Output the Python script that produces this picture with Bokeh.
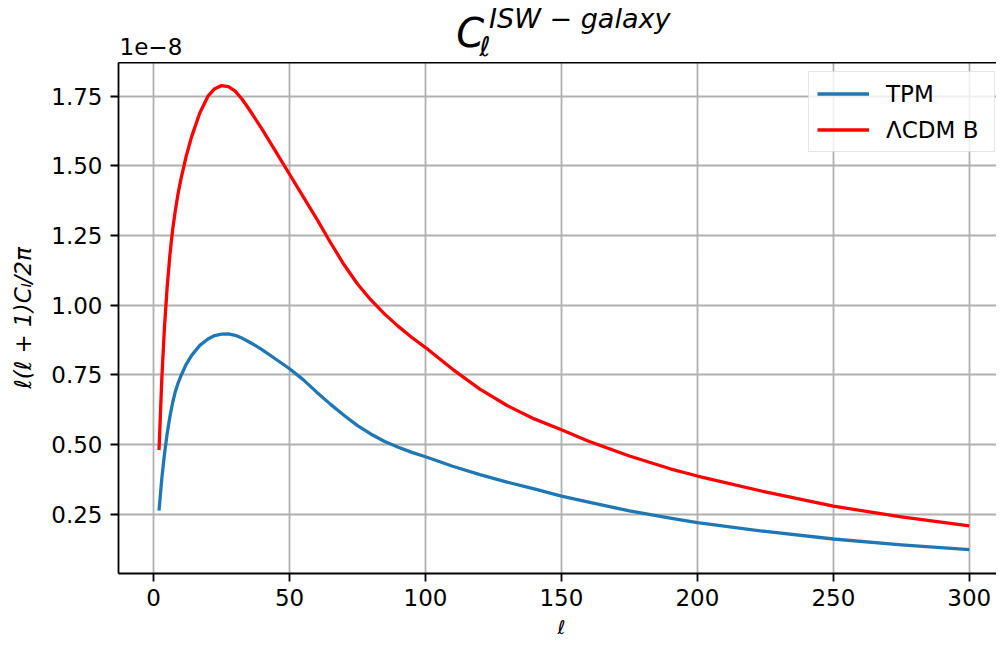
from bokeh.plotting import figure
from bokeh.models import (Range1d, FixedTicker, PrintfTickFormatter, LinearAxis, Label)
from bokeh.layouts import column
from bokeh.embed import file_html
from bokeh.resources import INLINE

# ---- data (values in units of 1e-8) ----
ell = [2, 3, 4, 5, 6, 7, 8, 9, 10, 12, 14, 17, 20, 22.5, 25, 27.5, 30, 32.5, 35,
       37.5, 40, 45, 50, 55, 60, 65, 70, 75, 80, 85, 90, 95, 100, 110, 120, 130,
       140, 150, 160, 175, 190, 200, 225, 250, 275, 300]
tpm = [0.263, 0.375, 0.465, 0.54, 0.60, 0.65, 0.69, 0.72, 0.745, 0.788, 0.82, 0.856,
       0.879, 0.891, 0.896, 0.897, 0.892, 0.882, 0.869, 0.855, 0.84, 0.806, 0.772,
       0.733, 0.688, 0.645, 0.605, 0.568, 0.537, 0.511, 0.490, 0.472, 0.456, 0.422,
       0.392, 0.365, 0.341, 0.315, 0.293, 0.262, 0.236, 0.220, 0.188, 0.161, 0.140,
       0.123]
lcdm_b = [0.48, 0.73, 0.92, 1.065, 1.18, 1.27, 1.34, 1.40, 1.45, 1.535, 1.605, 1.69,
          1.75, 1.777, 1.788, 1.784, 1.768, 1.74, 1.705, 1.668, 1.63, 1.55, 1.47, 1.39,
          1.31, 1.226, 1.146, 1.076, 1.018, 0.968, 0.924, 0.884, 0.848, 0.77, 0.699,
          0.64, 0.592, 0.553, 0.512, 0.459, 0.413, 0.387, 0.33, 0.279, 0.24, 0.208]
series_names = ["TPM", "\u039bCDM B"]
x_ticks = [0, 50, 100, 150, 200, 250, 300]
y_ticks = [0.25, 0.50, 0.75, 1.00, 1.25, 1.50, 1.75]
scale_text = "1e\u22128"
title_main = "C"
title_sub = "\u2113"
title_sup = "ISW \u2212 galaxy"
x_label = "\u2113"
y_label = "\u2113(\u2113 + 1)C\u2097/2\u03c0"

FONT = "DejaVu Sans"
W = 996
TITLE_H = 62
MAIN_H = 553
BOTTOM_H = 22


def strip(height, x_range):
    s = figure(width=W, height=height, output_backend="svg", toolbar_location=None,
               title=None, x_range=x_range, y_range=Range1d(0, height),
               x_axis_type=None, y_axis_type=None,
               min_border_left=118, min_border_right=0, min_border_top=0,
               min_border_bottom=0)
    s.outline_line_color = None
    s.xgrid.visible = False
    s.ygrid.visible = False
    return s


# ---------- main plot ----------
p = figure(width=W, height=MAIN_H, output_backend="svg", toolbar_location=None,
           x_range=Range1d(-12.9, 310.0), y_range=Range1d(0.0372, 1.871),
           min_border_left=118, min_border_top=0, min_border_bottom=42,
           min_border_right=0)
p.outline_line_color = None

p.line(ell, tpm, line_color="#1f77b4", line_width=3.3, line_join="round",
       legend_label=series_names[0])
p.line(ell, lcdm_b, line_color="#ff0000", line_width=3.3, line_join="round",
       legend_label=series_names[1])

for ax in (p.xaxis[0], p.yaxis[0]):
    ax.axis_line_width = 1.8
    ax.axis_line_color = "black"
    ax.major_tick_line_width = 1.8
    ax.major_tick_line_color = "black"
    ax.major_tick_out = 8
    ax.major_tick_in = 0
    ax.minor_tick_line_color = None
    ax.major_label_text_font = FONT
    ax.major_label_text_font_size = "23px"
    ax.major_label_text_color = "black"
    ax.axis_label_text_font = FONT
    ax.axis_label_text_font_size = "23px"
    ax.axis_label_text_font_style = "italic"
    ax.axis_label_text_color = "black"

p.xaxis.ticker = FixedTicker(ticks=x_ticks)
p.yaxis.ticker = FixedTicker(ticks=y_ticks)
p.yaxis.formatter = PrintfTickFormatter(format="%.2f")
p.xaxis.major_label_standoff = 7
p.yaxis.major_label_standoff = 8
p.yaxis.axis_label = y_label
p.yaxis.axis_label_standoff = 12

# top spine
top = LinearAxis(ticker=FixedTicker(ticks=[]), axis_line_width=1.8,
                 axis_line_color="black", major_tick_line_color=None,
                 minor_tick_line_color=None, major_tick_out=0, major_tick_in=0,
                 minor_tick_out=0, minor_tick_in=0,
                 major_label_standoff=0, major_label_text_font_size="0px")
p.add_layout(top, "above")

for g in (p.xgrid[0], p.ygrid[0]):
    g.grid_line_color = "#b0b0b0"
    g.grid_line_width = 1.8

lg = p.legend[0]
lg.location = (690, 421)
lg.label_text_font = FONT
lg.label_text_font_size = "23px"
lg.label_text_color = "black"
lg.glyph_width = 52
lg.glyph_height = 27
lg.label_height = 27
lg.label_width = 100
lg.label_standoff = 17
lg.spacing = 9
lg.padding = 8
lg.margin = 0
lg.border_line_color = "#cccccc"
lg.border_line_width = 1.8
lg.background_fill_alpha = 0.8

# ---------- title strip: x shares the plot's data range, y in pixels ----------
t = strip(TITLE_H, p.x_range)
t.add_layout(Label(x=-12.5, y=16, text=scale_text, text_font=FONT,
                   text_font_size="23px", text_baseline="alphabetic",
                   text_color="black"))
t.add_layout(Label(x=111.3, y=30, text=title_main, text_font=FONT,
                   text_font_style="italic", text_font_size="40px",
                   text_baseline="alphabetic", text_color="black"))
t.add_layout(Label(x=119.8, y=16.5, text=title_sub, text_font=FONT,
                   text_font_style="italic", text_font_size="27px",
                   text_baseline="alphabetic", text_color="black"))
t.add_layout(Label(x=123.4, y=44.5, text=title_sup, text_font=FONT,
                   text_font_style="italic", text_font_size="27px",
                   text_baseline="alphabetic", text_color="black"))

# ---------- bottom strip: x-axis label ----------
b = strip(BOTTOM_H, p.x_range)
b.add_layout(Label(x=150, y=11, text=x_label, text_font=FONT,
                   text_font_style="italic", text_font_size="19px",
                   text_align="center", text_baseline="middle",
                   text_color="black"))

layout = column(t, p, b, spacing=0)
open("out.html", "w").write(file_html(layout, INLINE))
